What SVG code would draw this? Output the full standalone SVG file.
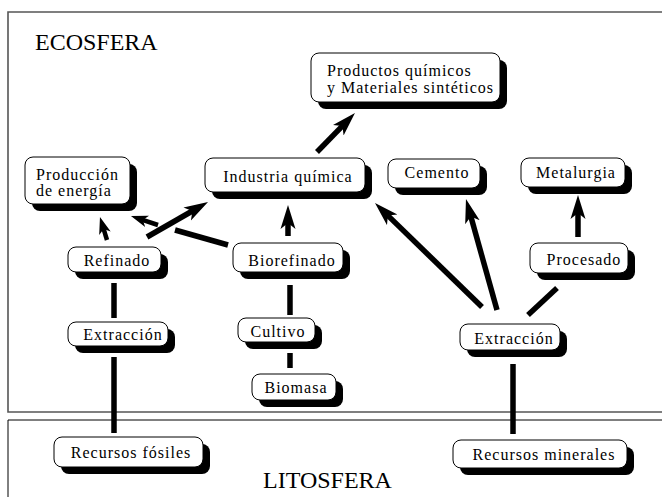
<svg xmlns="http://www.w3.org/2000/svg" width="662" height="497" viewBox="0 0 662 497">
<defs>
<style>
.sh{fill:#000}
.bx{fill:#fff;stroke:#000;stroke-width:1}
.t{font-family:"Liberation Serif","Times New Roman",serif;font-size:16px;letter-spacing:1px;fill:#000}
.c{text-anchor:middle}
.big{font-family:"Liberation Serif","Times New Roman",serif;font-size:24px;fill:#000}
.ln{stroke:#000;stroke-width:5.5;fill:none}
.lns{stroke:#000;stroke-width:4.5;fill:none}
</style>
<marker id="ah" markerUnits="userSpaceOnUse" markerWidth="26" markerHeight="18" refX="12" refY="8" orient="auto">
<path d="M0,0.5 L24,8 L0,15.5 L6,8 Z" fill="#000"/>
</marker>
<marker id="ahs" markerUnits="userSpaceOnUse" markerWidth="19" markerHeight="14" refX="8" refY="6" orient="auto">
<path d="M0,0 L17,6 L0,12 L4.5,6 Z" fill="#000"/>
</marker>
</defs>
<rect width="662" height="497" fill="#fff"/>
<g id="frames">
<path d="M670,12 H8 V412 H670" fill="none" stroke="#555" stroke-width="1.6"/>
<path d="M670,420 H8 V500" fill="none" stroke="#000" stroke-width="1"/>
<text class="big" x="35" y="50">ECOSFERA</text>
<text class="big" x="263" y="488">LITOSFERA</text>
</g>
<g id="connectors">
<line class="ln" x1="317" y1="152" x2="346.6" y2="121.6" marker-end="url(#ah)"/>
<line class="lns" x1="107" y1="240" x2="102.6" y2="225.6" marker-end="url(#ahs)"/>
<line class="ln" x1="147" y1="237" x2="197.6" y2="208" marker-end="url(#ah)"/>
<line class="ln" x1="228" y1="245" x2="175" y2="230"/>
<line class="lns" x1="158" y1="225" x2="139.5" y2="218.8" marker-end="url(#ahs)"/>
<line class="ln" x1="288" y1="236" x2="288" y2="217" marker-end="url(#ah)"/>
<line class="ln" x1="114" y1="283" x2="114" y2="318"/>
<line class="ln" x1="114" y1="357" x2="114" y2="433"/>
<line class="ln" x1="290" y1="285" x2="290" y2="315"/>
<line class="ln" x1="290" y1="353" x2="290" y2="368"/>
<line class="ln" x1="482" y1="307" x2="383.6" y2="211.4" marker-end="url(#ah)"/>
<line class="ln" x1="497" y1="310" x2="469.2" y2="210.6" marker-end="url(#ah)"/>
<line class="ln" x1="528" y1="315" x2="557" y2="288"/>
<line class="ln" x1="578" y1="237" x2="578" y2="207" marker-end="url(#ah)"/>
<line class="ln" x1="513" y1="364" x2="513" y2="434"/>
</g>
<g id="n-productos">
<rect class="sh" x="318" y="60" width="189" height="49" rx="8"/>
<rect class="bx" x="311" y="53" width="189" height="49" rx="8"/>
<text class="t" x="327" y="76">Productos químicos</text>
<text class="t" x="327" y="93">y Materiales sintéticos</text>
</g>
<g id="n-produccion">
<rect class="sh" x="32" y="164" width="105" height="47" rx="8"/>
<rect class="bx" x="25" y="157" width="105" height="47" rx="8"/>
<text class="t" x="36" y="180">Producción</text>
<text class="t" x="36" y="196">de energía</text>
</g>
<g id="n-industria">
<rect class="sh" x="212" y="165" width="160" height="34" rx="8"/>
<rect class="bx" x="205" y="158" width="160" height="34" rx="8"/>
<text class="t c" x="288" y="182">Industria química</text>
</g>
<g id="n-cemento">
<rect class="sh" x="395" y="166" width="92" height="29" rx="8"/>
<rect class="bx" x="388" y="159" width="92" height="29" rx="8"/>
<text class="t c" x="437" y="178">Cemento</text>
</g>
<g id="n-metalurgia">
<rect class="sh" x="528" y="165" width="104" height="29" rx="8"/>
<rect class="bx" x="521" y="158" width="104" height="29" rx="8"/>
<text class="t c" x="576" y="178">Metalurgia</text>
</g>
<g id="n-refinado">
<rect class="sh" x="75" y="254" width="93" height="25" rx="8"/>
<rect class="bx" x="68" y="247" width="93" height="25" rx="8"/>
<text class="t c" x="117" y="266">Refinado</text>
</g>
<g id="n-biorefinado">
<rect class="sh" x="240" y="250" width="110" height="29" rx="8"/>
<rect class="bx" x="233" y="243" width="110" height="29" rx="8"/>
<text class="t c" x="292" y="266">Biorefinado</text>
</g>
<g id="n-procesado">
<rect class="sh" x="537" y="250" width="98" height="30" rx="8"/>
<rect class="bx" x="530" y="243" width="98" height="30" rx="8"/>
<text class="t c" x="584" y="265">Procesado</text>
</g>
<g id="n-extraccion1">
<rect class="sh" x="75" y="329" width="100" height="24" rx="8"/>
<rect class="bx" x="68" y="322" width="100" height="24" rx="8"/>
<text class="t c" x="123" y="340">Extracción</text>
</g>
<g id="n-cultivo">
<rect class="sh" x="245" y="325" width="77" height="24" rx="8"/>
<rect class="bx" x="238" y="318" width="77" height="24" rx="8"/>
<text class="t c" x="278" y="337">Cultivo</text>
</g>
<g id="n-biomasa">
<rect class="sh" x="259" y="381" width="84" height="26" rx="8"/>
<rect class="bx" x="252" y="374" width="84" height="26" rx="8"/>
<text class="t c" x="296" y="393">Biomasa</text>
</g>
<g id="n-extraccion2">
<rect class="sh" x="467" y="331" width="100" height="26" rx="8"/>
<rect class="bx" x="460" y="324" width="100" height="26" rx="8"/>
<text class="t c" x="514" y="344">Extracción</text>
</g>
<g id="n-fosiles">
<rect class="sh" x="61" y="444" width="149" height="30" rx="8"/>
<rect class="bx" x="54" y="437" width="149" height="30" rx="8"/>
<text class="t c" x="131" y="458">Recursos fósiles</text>
</g>
<g id="n-minerales">
<rect class="sh" x="460" y="447" width="174" height="28" rx="8"/>
<rect class="bx" x="453" y="440" width="174" height="28" rx="8"/>
<text class="t c" x="544" y="460">Recursos minerales</text>
</g>
</svg>
